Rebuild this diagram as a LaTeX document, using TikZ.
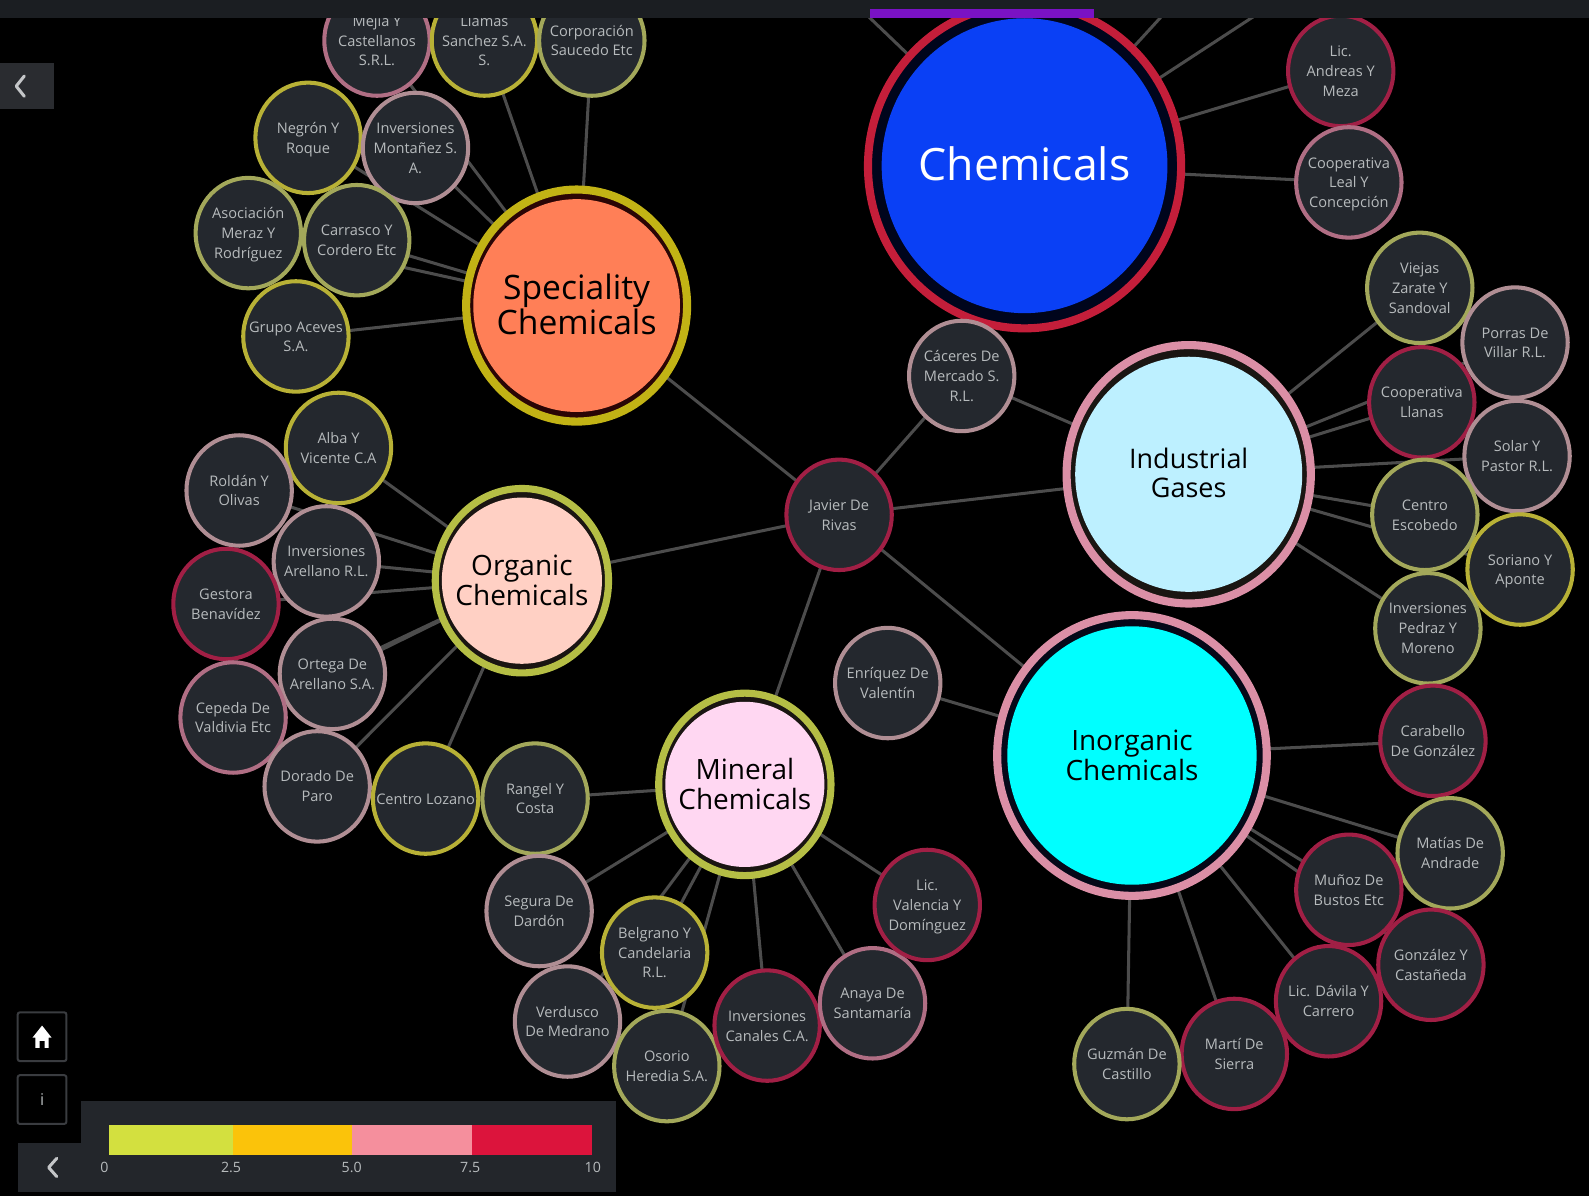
\documentclass[tikz,border=0pt]{standalone}
\usepackage{fontspec}
\usetikzlibrary{shapes.geometric}
\setmainfont{Open Sans}
\pgfdeclarelayer{bgl}
\pgfdeclarelayer{edgel}
\pgfsetlayers{bgl,edgel,main}
\definecolor{headbar}{HTML}{1B1E22}
\definecolor{purplebar}{HTML}{7A12C4}
\definecolor{smallfill}{HTML}{24282E}
\definecolor{edgec}{HTML}{4C4C4C}
\definecolor{txtc}{HTML}{B7BBBD}
\definecolor{rYel}{HTML}{B8B136}
\definecolor{rGrn}{HTML}{A3A85A}
\definecolor{rPal}{HTML}{B08E94}
\definecolor{rPnk}{HTML}{B06E84}
\definecolor{rRed}{HTML}{A11F45}
\definecolor{panelc}{HTML}{23262B}
\definecolor{hubChemRing}{HTML}{C41E3A}
\definecolor{hubChemGap}{HTML}{00051C}
\definecolor{hubChemFill}{HTML}{0A40F5}
\definecolor{hubSpecRing}{HTML}{C2B315}
\definecolor{hubSpecGap}{HTML}{2A0505}
\definecolor{hubSpecFill}{HTML}{FF7F57}
\definecolor{hubOrgRing}{HTML}{B5BE45}
\definecolor{hubOrgFill}{HTML}{FFD0C4}
\definecolor{hubMinFill}{HTML}{FFD7F2}
\definecolor{hubIndRing}{HTML}{DB8FA6}
\definecolor{hubIndFill}{HTML}{BDF0FF}
\definecolor{hubInoFill}{HTML}{00FFFF}
\definecolor{hubGapDark}{HTML}{1A1512}
\definecolor{hubGapNavy}{HTML}{050818}
\definecolor{lgA}{HTML}{D3E03F}
\definecolor{lgB}{HTML}{FBC30A}
\definecolor{lgC}{HTML}{F58F9D}
\definecolor{lgD}{HTML}{DC143C}
\definecolor{uigrey}{HTML}{3A3C40}
\definecolor{tabfill}{HTML}{2A2C30}
\definecolor{chevc}{HTML}{C4C6C8}
\newcommand\cotext[2]{\raisebox{#1}[0pt][0pt]{\makebox[0pt]{\begin{tabular}{@{}c@{}}#2\end{tabular}}}}
\newcommand\compnode[4]{\node[#1] (#2) at #3 {\cotext{-2.5pt}{#4}};}
\tikzset{
  x=0.5pt,y=-0.5pt,
  co/.style={ellipse,inner sep=0pt,outer sep=0pt,minimum width=52pt,minimum height=54.5pt,fill=smallfill,line width=2pt,
    text=txtc,font=\fontsize{7.2}{9.8}\selectfont},
  yel/.style={co,draw=rYel},
  grn/.style={co,draw=rGrn},
  pal/.style={co,draw=rPal},
  pnk/.style={co,draw=rPnk},
  red/.style={co,draw=rRed},
  bigring/.style={ellipse,inner sep=0pt,outer sep=0pt,line width=4pt},
  bigfill/.style={ellipse,inner sep=0pt,outer sep=0pt,text=black},
  link/.style={draw=edgec,line width=1.5pt},
  uibox/.style={draw=uigrey,line width=1pt,rounded corners=1pt,fill=black,inner sep=0pt},
  ticklab/.style={text=txtc,font=\fontsize{7}{8}\selectfont,inner sep=0pt},
}
\begin{document}
\begin{tikzpicture}
\useasboundingbox (0,0) rectangle (1568,1180);
\begin{pgfonlayer}{bgl}
\fill[black] (0,0) rectangle (1568,1180);
\end{pgfonlayer}
\clip (0,0) rectangle (1568,1180);

% hubs
\node[bigring,draw=hubChemRing,fill=hubChemGap,minimum width=154.5pt,minimum height=160pt] (chem) at (1011,164) {};
\node[bigfill,fill=hubChemFill,minimum width=141pt,minimum height=145.5pt,font=\fontsize{22}{26}\selectfont,text=white] (chemF) at (1011,163.5) {\cotext{-7.3pt}{Chemicals}};
\node[bigring,draw=hubSpecRing,fill=hubSpecGap,minimum width=109pt,minimum height=114.5pt] (spec) at (569,301.5) {};
\node[bigfill,fill=hubSpecFill,minimum width=102pt,minimum height=105pt,font=\fontsize{16.6}{17}\selectfont] (specF) at (569,301.5) {\cotext{-6.2pt}{Speciality\\Chemicals}};
\node[bigring,line width=3.5pt,draw=hubOrgRing,fill=hubGapDark,minimum width=85.5pt,minimum height=91pt] (org) at (515,573) {};
\node[bigfill,fill=hubOrgFill,minimum width=79pt,minimum height=82pt,font=\fontsize{13.8}{14.5}\selectfont] (orgF) at (515,573) {\cotext{-5.5pt}{Organic\\Chemicals}};
\node[bigring,line width=3.5pt,draw=hubOrgRing,fill=hubGapDark,minimum width=85pt,minimum height=90pt] (mine) at (735,774) {};
\node[bigfill,fill=hubMinFill,minimum width=78.5pt,minimum height=81.5pt,font=\fontsize{13.8}{14.5}\selectfont] (mineF) at (735,774) {\cotext{-5.5pt}{Mineral\\Chemicals}};
\node[bigring,draw=hubIndRing,fill=hubGapDark,minimum width=120.5pt,minimum height=127.5pt] (ind) at (1173,468) {};
\node[bigfill,fill=hubIndFill,minimum width=112pt,minimum height=116pt,font=\fontsize{13.3}{14.5}\selectfont] (indF) at (1173,468) {\cotext{-5pt}{Industrial\\Gases}};
\node[bigring,draw=hubIndRing,fill=hubGapNavy,minimum width=133pt,minimum height=138.5pt] (ino) at (1117,745.5) {};
\node[bigfill,fill=hubInoFill,minimum width=123pt,minimum height=127.5pt,font=\fontsize{13.8}{14.5}\selectfont] (inoF) at (1117,745.5) {\cotext{-5.5pt}{Inorganic\\Chemicals}};

% companies: speciality
\compnode{pnk}{a1}{(372,40)}{Mejía Y\\Castellanos\\S.R.L.}
\compnode{yel}{a2}{(478,40)}{Llamas\\Sanchez S.A.\\S.}
\compnode{grn}{a3}{(584,40)}{Corporación\\Saucedo Etc}
\compnode{yel}{a4}{(304,136)}{Negrón Y\\Roque}
\compnode{pal}{a5}{(410,146)}{Inversiones\\Montañez S.\\A.}
\compnode{grn}{a6}{(245,230)}{Asociación\\Meraz Y\\Rodríguez}
\compnode{grn}{a7}{(352,237)}{Carrasco Y\\Cordero Etc}
\compnode{yel}{a8}{(292,332)}{Grupo Aceves\\S.A.}
% organic
\compnode{yel}{b1}{(334,442)}{Alba Y\\Vicente C.A}
\compnode{pal}{b2}{(236,484)}{Roldán Y\\Olivas}
\compnode{pal}{b3}{(322,554)}{Inversiones\\Arellano R.L.}
\compnode{red}{b4}{(223,596)}{Gestora\\Benavídez}
\compnode{pal}{b5}{(328,665)}{Ortega De\\Arellano S.A.}
\compnode{pnk}{b6}{(230,708)}{Cepeda De\\Valdivia Etc}
\compnode{pal}{b7}{(313,776)}{Dorado De\\Paro}
\compnode{yel}{b8}{(420,788)}{Centro Lozano}
% mineral
\compnode{grn}{c1}{(528,788)}{Rangel Y\\Costa}
\compnode{pal}{c2}{(532,899)}{Segura De\\Dardón}
\compnode{yel}{c3}{(646,940)}{Belgrano Y\\Candelaria\\R.L.}
\compnode{pal}{c4}{(560,1008)}{Verdusco\\De Medrano}
\compnode{grn}{c5}{(658,1052)}{Osorio\\Heredia S.A.}
\compnode{red}{c6}{(757,1012)}{Inversiones\\Canales C.A.}
\compnode{pnk}{c7}{(861,990)}{Anaya De\\Santamaría}
\compnode{red}{c8}{(915,893)}{Lic.\\Valencia Y\\Domínguez}
% centre
\compnode{pal}{d1}{(949,371)}{Cáceres De\\Mercado S.\\R.L.}
\compnode{red}{d2}{(828,508)}{Javier De\\Rivas}
\compnode{pal}{d3}{(876,674)}{Enríquez De\\Valentín}
% chemicals
\compnode{red}{e1}{(1323,70)}{Lic.\\Andreas Y\\Meza}
\compnode{pnk}{e2}{(1331,180)}{Cooperativa\\Leal Y\\Concepción}
% industrial
\compnode{grn}{f1}{(1401,284)}{Viejas\\Zarate Y\\Sandoval}
\compnode{pal}{f2}{(1495,338)}{Porras De\\Villar R.L.}
\compnode{red}{f3}{(1403,397)}{Cooperativa\\Llanas}
\compnode{pal}{f4}{(1497,450)}{Solar Y\\Pastor R.L.}
\compnode{grn}{f5}{(1406,508)}{Centro\\Escobedo}
\compnode{yel}{f6}{(1500,562)}{Soriano Y\\Aponte}
\compnode{grn}{f7}{(1409,620)}{Inversiones\\Pedraz Y\\Moreno}
% inorganic
\compnode{red}{g1}{(1414,731)}{Carabello\\De González}
\compnode{grn}{g2}{(1431,842)}{Matías De\\Andrade}
\compnode{red}{g3}{(1331,878)}{Muñoz De\\Bustos Etc}
\compnode{red}{g4}{(1412,952)}{González Y\\Castañeda}
\compnode{red}{g5}{(1311,988)}{Lic. Dávila Y\\Carrero}
\compnode{red}{g6}{(1218,1040)}{Martí De\\Sierra}
\compnode{grn}{g7}{(1112,1050)}{Guzmán De\\Castillo}

\coordinate (offa) at (840,0);
\coordinate (offb) at (1161,0);
\coordinate (offc) at (1262,0);

\begin{pgfonlayer}{edgel}
\foreach \s in {a1,a2,a3,a4,a5,a6,a7,a8} \draw[link] (\s) -- (spec);
\foreach \s in {b1,b2,b3,b4,b5,b6,b7,b8} \draw[link] (\s) -- (org);
\foreach \s in {c1,c2,c3,c4,c5,c6,c7,c8} \draw[link] (\s) -- (mine);
\foreach \s in {f1,f2,f3,f4,f5,f6,f7} \draw[link] (\s) -- (ind);
\foreach \s in {g1,g2,g3,g4,g5,g6,g7,d3} \draw[link] (\s) -- (ino);
\foreach \s in {e1,e2,offa,offb,offc} \draw[link] (\s) -- (chem);
\foreach \s in {spec,org,mine,ino,ind,d1} \draw[link] (\s) -- (d2);
\draw[link] (d1) -- (ind);
\end{pgfonlayer}

% header
\fill[headbar] (0,0) rectangle (1568,18);
\fill[purplebar] (858,9) rectangle (1080,18);

% back tab
\fill[tabfill] (0,62) rectangle (53,108);
\draw[chevc,line width=1.5pt,line cap=round,line join=round] (24,75) -- (16,85) -- (24,95);

% buttons
\node[uibox,minimum width=24pt,minimum height=24pt] (homebtn) at (41.5,1023) {};
\fill[white] (41.5,1012) -- (51,1024) -- (48,1024) -- (48,1034) -- (44,1034) -- (44,1027) -- (39,1027) -- (39,1034) -- (35,1034) -- (35,1024) -- (32,1024) -- cycle;
\node[uibox,minimum width=24pt,minimum height=24pt,text=txtc,font=\fontsize{8}{9}\selectfont] (infobtn) at (41.5,1085) {i};

% legend
\fill[panelc] (80,1086) rectangle (608,1176);
\fill[panelc] (18,1128) rectangle (80,1176);
\fill[lgA] (108,1110) rectangle (230,1140);
\fill[lgB] (230,1110) rectangle (347,1140);
\fill[lgC] (347,1110) rectangle (466,1140);
\fill[lgD] (466,1110) rectangle (584,1140);
\draw[chevc,line width=1.5pt,line cap=round,line join=round] (56,1143) -- (48,1152) -- (56,1161);
\node[ticklab] (t0) at (103,1152) {0};
\node[ticklab] (t1) at (228,1152) {2.5};
\node[ticklab] (t2) at (347,1152) {5.0};
\node[ticklab] (t3) at (464,1152) {7.5};
\node[ticklab] (t4) at (585,1152) {10};
\end{tikzpicture}
\end{document}
